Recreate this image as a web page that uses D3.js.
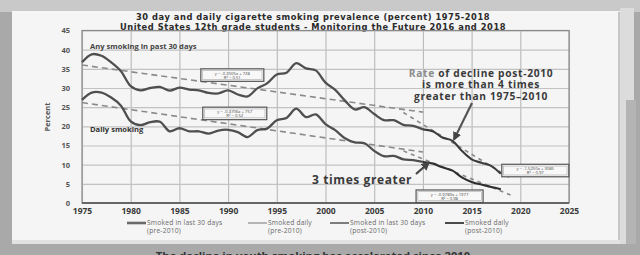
<!DOCTYPE html>
<html><head><meta charset="utf-8">
<script src="https://cdn.jsdelivr.net/npm/d3@7"></script>
<style>
html,body{margin:0;padding:0;background:#a8a8a8;}
svg{display:block;font-family:"Open Sans",sans-serif;}
</style></head>
<body><svg id="c" width="640" height="255"></svg>
<script>
// ---- data ----
const titleLines = ["30 day and daily cigarette smoking prevalence (percent) 1975-2018",
                    "United States 12th grade students - Monitoring the Future 2016 and 2018"];
const xTicks = [1975,1980,1985,1990,1995,2000,2005,2010,2015,2020,2025];
const yTicks = [0,5,10,15,20,25,30,35,40,45];
const yearsPre = [1975,1976,1977,1978,1979,1980,1981,1982,1983,1984,1985,1986,1987,1988,1989,1990,1991,1992,1993,1994,1995,1996,1997,1998,1999,2000,2001,2002,2003,2004,2005,2006,2007,2008,2009,2010];
const any30Pre = [36.7,38.8,38.4,36.7,34.4,30.5,29.4,30.0,30.3,29.3,30.1,29.6,29.4,28.7,28.6,29.4,28.3,27.8,29.9,31.2,33.5,34.0,36.5,35.1,34.6,31.4,29.5,26.7,24.4,25.0,23.2,21.6,21.6,20.4,20.1,19.2];
const dailyPre = [26.9,28.8,28.8,27.5,25.4,21.3,20.3,21.1,21.2,18.7,19.5,18.7,18.7,18.1,18.9,19.1,18.5,17.2,19.0,19.4,21.6,22.2,24.6,22.4,23.1,20.6,19.0,16.9,15.8,15.6,13.6,12.2,12.3,11.4,11.2,10.7];
const yearsPost = [2010,2011,2012,2013,2014,2015,2016,2017,2018];
const any30Post = [19.2,18.7,17.1,16.3,13.6,11.4,10.5,9.7,7.6];
const dailyPost = [10.7,10.3,9.3,8.5,6.7,5.5,4.8,4.2,3.6];
// trend lines: [year0, value0, year1, value1]
const trendAnyPre = [1975,36.0,2010,23.7];
const trendDailyPre = [1975,26.2,2010,13.3];
const trendAnyPost = [2008,23.6,2019,6.5];
const trendDailyPost = [2008,13.6,2019,2.1];
const eqAnyPre = ["y = -0.3505x + 728","R² = 0.51"];
const eqDailyPre = ["y = -0.3706x + 757","R² = 0.52"];
const eqAnyPost = ["y = -1.5250x + 3085","R² = 0.97"];
const eqDailyPost = ["y = -0.9783x + 1977","R² = 0.98"];
const legendLabels = [["Smoked in last 30 days","(pre-2010)"],["Smoked daily","(pre-2010)"],["Smoked in last 30 days","(post-2010)"],["Smoked daily","(post-2010)"]];
const noteRate = ["of decline post-2010","is more than 4 times","greater than 1975\u20132010"];
const note3 = "3 times greater";
const footer = "The decline in youth smoking has accelerated since 2010";

// ---- drawing ----
const svg = d3.select("#c");
// photo background
svg.append("rect").attr("x",0).attr("y",0).attr("width",640).attr("height",255).attr("fill","#a9a9a9");
svg.append("rect").attr("x",0).attr("y",0).attr("width",640).attr("height",12).attr("fill","#c9c9c9");
svg.append("rect").attr("x",620).attr("y",8).attr("width",14).attr("height",236).attr("fill","#dcdcdc");
svg.append("rect").attr("x",626).attr("y",100).attr("width",10).attr("height",144).attr("fill","#b4b4b4");
svg.append("rect").attr("x",12).attr("y",11).attr("width",608).attr("height",229).attr("fill","#f5f5f5");
svg.append("rect").attr("x",12).attr("y",240).attr("width",608).attr("height",4).attr("fill","#e2e2e2");
svg.append("line").attr("x1",619).attr("x2",619).attr("y1",12).attr("y2",240).attr("stroke","#9a9a9a").attr("stroke-width",1);

const x = d3.scaleLinear().domain([1975,2025]).range([82,569]);
const y = d3.scaleLinear().domain([0,45]).range([203,30.5]);

// title
svg.selectAll("text.title").data(titleLines).join("text")
  .attr("x",313).attr("y",(d,i)=>20+i*9.6).attr("text-anchor","middle")
  .attr("font-family","DejaVu Sans").attr("font-size",8.3).attr("letter-spacing",0.55).attr("font-weight",700).attr("fill","#2a2a2a").text(d=>d);

// gridlines
const gx = svg.append("g").attr("transform",`translate(0,${y(0)})`)
  .call(d3.axisBottom(x).tickValues(xTicks).tickFormat(d3.format("d")).tickSize(-(y(0)-y(45))).tickPadding(5));
gx.select(".domain").remove();
gx.selectAll("line").attr("stroke","#b9b9b9").attr("stroke-width",1.1);
gx.selectAll("text").attr("font-size",8.5).attr("font-weight",700).attr("fill","#3a3a3a").attr("font-family","Open Sans");
const gy = svg.append("g").attr("transform",`translate(${x(1975)},0)`)
  .call(d3.axisLeft(y).tickValues(yTicks).tickSize(-(x(2025)-x(1975))).tickPadding(12));
gy.select(".domain").remove();
gy.selectAll("line").attr("stroke","#c2c2c2").attr("stroke-width",1.1);
gy.selectAll("text").attr("font-size",7.5).attr("font-weight",700).attr("fill","#555").attr("font-family","Open Sans");
// frame
svg.append("rect").attr("x",x(1975)).attr("y",y(45)).attr("width",x(2025)-x(1975)).attr("height",y(0)-y(45))
  .attr("fill","none").attr("stroke","#8a8a8a").attr("stroke-width",1.2);
svg.append("line").attr("x1",x(1975)).attr("x2",x(2025)).attr("y1",y(0)).attr("y2",y(0)).attr("stroke","#666").attr("stroke-width",2);

svg.append("text").attr("transform",`translate(50,117) rotate(-90)`).attr("text-anchor","middle")
  .attr("font-size",7.5).attr("font-weight",700).attr("fill","#555").text("Percent");

// trend lines
function trend(t, dash, w, col){
  svg.append("line").attr("x1",x(t[0])).attr("y1",y(t[1])).attr("x2",x(t[2])).attr("y2",y(t[3]))
    .attr("stroke",col).attr("stroke-width",w).attr("stroke-dasharray",dash);
}
trend(trendAnyPre,"6,4",1.6,"#8a8a8a");
trend(trendDailyPre,"6,4",1.6,"#8a8a8a");
trend(trendAnyPost,"4,4",1.6,"#8a8a8a");
trend(trendDailyPost,"4,4",1.6,"#8a8a8a");

// data lines
const line = d3.line().x(d=>x(d[0])).y(d=>y(d[1])).curve(d3.curveCatmullRom.alpha(0.5));
function series(yrs, vals, col, w){
  svg.append("path").datum(yrs.map((yr,i)=>[yr,vals[i]])).attr("d",line)
    .attr("fill","none").attr("stroke",col).attr("stroke-width",w).attr("stroke-linejoin","round");
}
series(yearsPre, any30Pre, "#4f4f4f", 2.3);
series(yearsPre, dailyPre, "#4f4f4f", 2.3);
series(yearsPost, any30Post, "#3c3c3c", 2.1);
series(yearsPost, dailyPost, "#2e2e2e", 2.1);

// equation boxes
function eqBox(lines, yr, val, w){
  const bx = x(yr), by = y(val);
  const g = svg.append("g");
  g.append("rect").attr("x",bx).attr("y",by).attr("width",w).attr("height",12.5)
    .attr("fill","#f8f8f8").attr("stroke","#555").attr("stroke-width",1.2);
  g.append("rect").attr("x",bx+1.8).attr("y",by+1.8).attr("width",w-3.6).attr("height",8.9)
    .attr("fill","none").attr("stroke","#999").attr("stroke-width",0.5);
  g.selectAll("text").data(lines).join("text").attr("x",bx+w/2).attr("y",(d,i)=>by+5.8+i*4.3)
    .attr("text-anchor","middle").attr("font-size",4.2).attr("fill","#444").text(d=>d);
}
eqBox(eqAnyPre, 1987.2, 35.0, 63);
eqBox(eqDailyPre, 1987.4, 25.0, 64);
eqBox(eqAnyPost, 2018.1, 10.1, 67);
eqBox(eqDailyPost, 2009.3, 3.4, 67);

// labels
svg.append("text").attr("x",90).attr("y",49).attr("font-size",7.6).attr("font-weight",700).attr("fill","#444").text("Any smoking in past 30 days");
svg.append("text").attr("x",90).attr("y",132).attr("font-size",7.6).attr("font-weight",700).attr("fill","#333").text("Daily smoking");

// annotation text
const annY = [76.5,88,99.5];
const rt = svg.append("text").attr("text-anchor","middle").attr("font-size",10.2).attr("letter-spacing",0.7).attr("font-weight",700).attr("fill","#3a3a3a");
rt.append("tspan").attr("x",481).attr("y",annY[0]).attr("fill","#8c8c8c").text("Rate ");
rt.append("tspan").text(noteRate[0]);
[1,2].forEach(i=>svg.append("text").attr("x",481).attr("y",annY[i]).attr("text-anchor","middle").attr("font-size",10.2)
  .attr("letter-spacing",0.7).attr("font-weight",700).attr("fill","#3a3a3a").text(noteRate[i]));
svg.append("text").attr("x",312).attr("y",184).attr("font-size",12).attr("letter-spacing",0.6).attr("font-weight",700).attr("fill","#3a3a3a").text(note3);

// arrows
const defs = svg.append("defs");
defs.append("marker").attr("id","ah").attr("viewBox","0 0 10 10").attr("refX",8).attr("refY",5)
  .attr("markerWidth",4).attr("markerHeight",4).attr("orient","auto")
  .append("path").attr("d","M0,0L10,5L0,10z").attr("fill","#444");
svg.append("line").attr("x1",472).attr("y1",103).attr("x2",x(2013.2)).attr("y2",y(16.6))
  .attr("stroke","#555").attr("stroke-width",2.2).attr("marker-end","url(#ah)");
svg.append("line").attr("x1",416).attr("y1",174).attr("x2",x(2010.6)).attr("y2",y(10.5))
  .attr("stroke","#444").attr("stroke-width",2.2).attr("marker-end","url(#ah)");

// legend
const legX = [127,248,330,445];
const legStyle = [[2.6,"#6a6a6a"],[1,"#777"],[1.5,"#555"],[1.5,"#111"]];
legendLabels.forEach((lab,i)=>{
  svg.append("line").attr("x1",legX[i]).attr("x2",legX[i]+19).attr("y1",223).attr("y2",223)
    .attr("stroke",legStyle[i][1]).attr("stroke-width",legStyle[i][0]);
  svg.append("text").attr("x",legX[i]+20).attr("y",224.5).attr("font-size",6.7).attr("letter-spacing",0.2).attr("fill","#6a6a6a").text(lab[0]);
  svg.append("text").attr("x",legX[i]+20).attr("y",232.5).attr("font-size",6.7).attr("letter-spacing",0.2).attr("fill","#6a6a6a").text(lab[1]);
});

// footer (cut off at bottom of photo)
svg.append("text").attr("x",313).attr("y",260).attr("text-anchor","middle").attr("font-size",11.2)
  .attr("font-weight",700).attr("fill","#333").text(footer);
</script></body></html>
